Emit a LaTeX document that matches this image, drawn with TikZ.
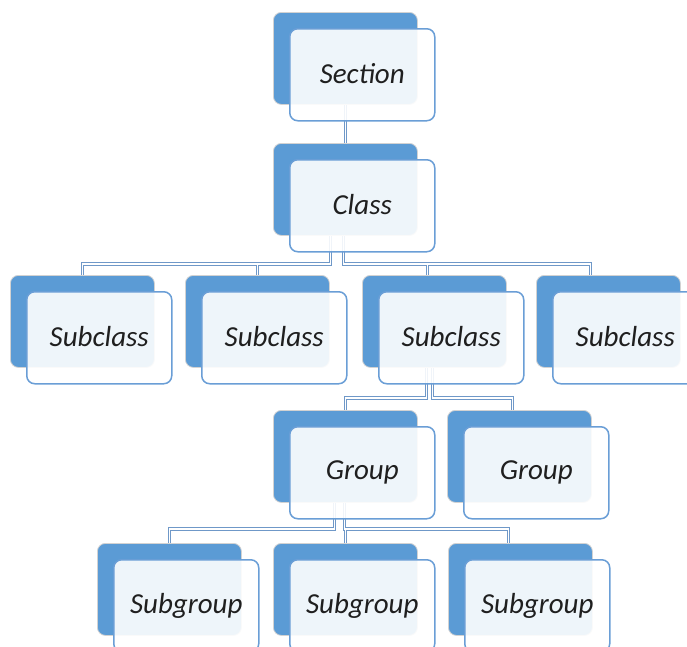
\documentclass[tikz,border=0pt]{standalone}
\usepackage{fontspec}
\setmainfont{Carlito}
\definecolor{backblue}{HTML}{5B9BD5}
\definecolor{edgeblue}{HTML}{6A9ED6}
\definecolor{connblue}{HTML}{6F98C8}
\pgfdeclarelayer{bg}
\pgfsetlayers{bg,main}
\tikzset{
  backbox/.style={draw=gray!35, line width=0.8pt, fill=backblue, rounded corners=8pt,
    minimum width=144pt, minimum height=92pt, anchor=north west, inner sep=0pt},
  frontbox/.style={draw=edgeblue, line width=1.5pt, fill=white, fill opacity=0.9, text opacity=1,
    rounded corners=8pt, minimum width=145pt, minimum height=92pt, anchor=north west,
    inner sep=0pt, font=\fontsize{29}{31}\selectfont\itshape, text=black!88},
  link/.style={draw=connblue, line width=0.9pt, double=white, double distance=1.8pt},
}
% back plate at (x,y), front card offset down-right
\newcommand\orgnode[4]{%
  \node[backbox] (#1B) at (#2,#3) {};
  \node[frontbox] (#1) at ([xshift=16pt,yshift=-16pt]#1B.north west) {\raisebox{3pt}{#4}};
}
\begin{document}
\begin{tikzpicture}[x=1pt,y=-1pt]
\useasboundingbox (0,0) rectangle (687,646);
\clip (0,0) rectangle (687,646);

\orgnode{sec}{273}{12}{Section}
\orgnode{cls}{273}{143}{Class}
\orgnode{scA}{10}{275}{Subclass}
\orgnode{scB}{185}{275}{Subclass}
\orgnode{scC}{362}{275}{Subclass}
\orgnode{scD}{536}{275}{Subclass}
\orgnode{grA}{273}{410}{Group}
\orgnode{grB}{447}{410}{Group}
\orgnode{sgA}{97}{543}{Subgroup}
\orgnode{sgB}{273}{543}{Subgroup}
\orgnode{sgC}{448}{543}{Subgroup}

\begin{pgfonlayer}{bg}
  % section to class
  \draw[link] (secB.south) -- (clsB.north);
  % class to subclasses
  \draw[link]
    ([xshift=-15pt]clsB.south) -- ++(0,28) -| (scAB.north)
    ([xshift=-15pt]clsB.south) -- ++(0,28) -| (scBB.north)
    ([xshift=-2pt]clsB.south) -- ++(0,28) -| ([xshift=-7pt]scCB.north)
    ([xshift=-2pt]clsB.south) -- ++(0,28) -| ([xshift=-18pt]scDB.north);
  % subclass to groups
  \draw[link]
    ([xshift=-8pt]scCB.south) -- ++(0,30) -| (grAB.north)
    ([xshift=-2pt]scCB.south) -- ++(0,30) -| ([xshift=-7pt]grBB.north);
  % group to subgroups
  \draw[link]
    ([xshift=-11pt]grAB.south) -- ++(0,26) -| (sgAB.north)
    ([xshift=-1pt]grAB.south) -- ++(0,26) -| (sgBB.north)
    ([xshift=-1pt]grAB.south) -- ++(0,26) -| ([xshift=-12pt]sgCB.north);
\end{pgfonlayer}
\end{tikzpicture}
\end{document}
